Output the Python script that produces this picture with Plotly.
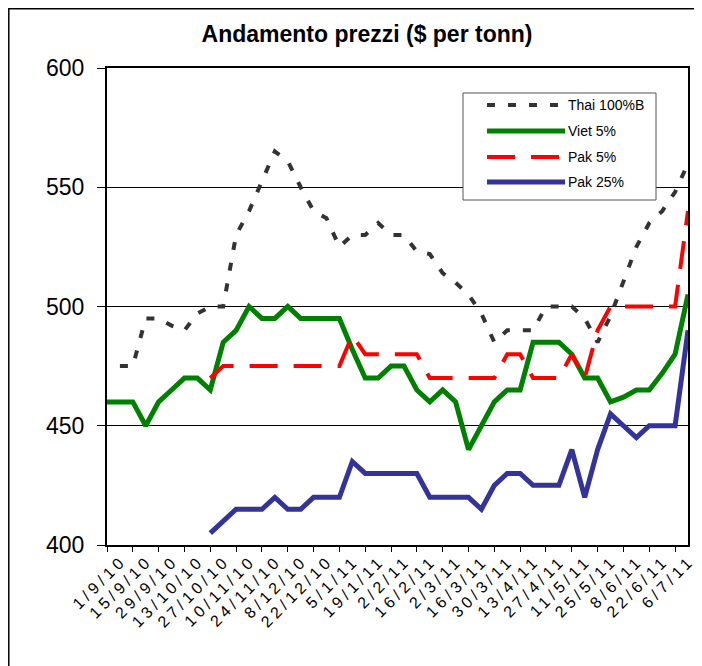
import plotly.graph_objects as go

# ---- data (weekly) ----
weeks = ["1/9/10", "8/9/10", "15/9/10", "22/9/10", "29/9/10", "6/10/10", "13/10/10", "20/10/10",
         "27/10/10", "3/11/10", "10/11/10", "17/11/10", "24/11/10", "1/12/10", "8/12/10", "15/12/10",
         "22/12/10", "29/12/10", "5/1/11", "12/1/11", "19/1/11", "26/1/11", "2/2/11", "9/2/11",
         "16/2/11", "23/2/11", "2/3/11", "9/3/11", "16/3/11", "23/3/11", "30/3/11", "6/4/11",
         "13/4/11", "20/4/11", "27/4/11", "4/5/11", "11/5/11", "18/5/11", "25/5/11", "1/6/11",
         "8/6/11", "15/6/11", "22/6/11", "29/6/11", "6/7/11", "13/7/11"]

tick_labels = ["1/9/10", "15/9/10", "29/9/10", "13/10/10", "27/10/10", "10/11/10", "24/11/10",
               "8/12/10", "22/12/10", "5/1/11", "19/1/11", "2/2/11", "16/2/11", "2/3/11", "16/3/11",
               "30/3/11", "13/4/11", "27/4/11", "11/5/11", "25/5/11", "8/6/11", "22/6/11", "6/7/11"]

thai_100b = [None, 475, 475, 495, 495, 492, 490, 497, 500, 500, 530, 540, 552, 565, 561, 550,
             540, 537, 525, 530, 530, 535, 530, 530, 523, 522, 514, 510, 505, 497, 485, 490,
             490, 490, 500, 500, 500, 495, 485, 496, 510, 525, 535, 540, 548, 560]

viet_5 = [460, 460, 460, 450, 460, 465, 470, 470, 465, 485, 490, 500, 495, 495, 500, 495,
          495, 495, 495, 482, 470, 470, 475, 475, 465, 460, 465, 460, 440, 450, 460, 465,
          465, 485, 485, 485, 480, 470, 470, 460, 462, 465, 465, 472, 480, 505]

pak_5 = [None, None, None, None, None, None, None, None,
         470, 475, 475, 475, 475, 475, 475, 475, 475, 475, 475, 488, 480, 480, 480, 480,
         480, 470, 470, 470, 470, 470, 470, 480, 480, 470, 470, 470, 480, 470, 490, 500,
         500, 500, 500, 500, 500, 540]

pak_25 = [None, None, None, None, None, None, None, None,
          405, 410, 415, 415, 415, 420, 415, 415, 420, 420, 420, 435, 430, 430, 430, 430,
          430, 420, 420, 420, 420, 415, 425, 430, 430, 425, 425, 425, 440, 420, 440, 455,
          450, 445, 450, 450, 450, 490]

series_names = ["Thai 100%B", "Viet 5%", "Pak 5%", "Pak 25%"]

# ---- geometry (figure pixels; the page adds an 8px body margin) ----
OFF = 8
W, H = 702 - OFF, 666 - OFF
L, R, T, B = 107 - OFF, 688 - OFF, 68 - OFF, 545 - OFF
PW, PH = R - L, B - T


def px(x):
    return (x - OFF - L) / PW


def py(y):
    return (B - (y - OFF)) / PH


FONT = "Arial, Liberation Sans, sans-serif"

styles = [
    dict(color="#333333", width=4, dash="8px,13px"),
    dict(color="#008000", width=5),
    dict(color="#FF0000", width=4, dash="28px,16px"),
    dict(color="#333399", width=5),
]

fig = go.Figure()
for name, vals, st in zip(series_names, [thai_100b, viet_5, pak_5, pak_25], styles):
    fig.add_trace(go.Scatter(x=weeks, y=vals, name=name, mode="lines", line=st,
                             connectgaps=False, showlegend=False))

fig.update_layout(
    width=W, height=H,
    margin=dict(l=L, r=W - R, t=T, b=H - B, pad=0, autoexpand=False),
    paper_bgcolor="white", plot_bgcolor="white",
    font=dict(family=FONT, color="black"),
    title=dict(text="<b>Andamento prezzi ($ per tonn)</b>", font=dict(size=23, family=FONT),
               x=(367 - OFF) / W, xanchor="center", xref="container",
               y=1 - (34 - OFF) / H, yanchor="middle", yref="container"),
)

spaced_labels = ['<span style="letter-spacing:4px">%s</span>' % t for t in tick_labels]

fig.update_xaxes(
    type="category", categoryorder="array", categoryarray=weeks,
    range=[0, len(weeks) - 1], automargin=False,
    tickmode="array", tickvals=weeks[::2], ticktext=spaced_labels,
    tickangle=-45, tickfont=dict(size=16, family=FONT),
    ticklabelshift=15, ticklabelstandoff=-7,
    ticks="outside", ticklen=5, tickcolor="black", tickwidth=1,
    showline=True, linecolor="black", linewidth=2, mirror=True,
    showgrid=False, zeroline=False,
)
fig.update_yaxes(
    range=[400, 600], tickvals=[400, 450, 500, 550, 600], automargin=False,
    tickfont=dict(size=23, family=FONT),
    ticks="outside", ticklen=8, tickcolor="black", tickwidth=1,
    ticklabelstandoff=8,
    showline=True, linecolor="black", linewidth=2, mirror=True,
    showgrid=True, gridcolor="black", gridwidth=1, zeroline=False,
)

shapes = []
# outer chart border (extends beyond the picture on right and bottom)
shapes.append(dict(type="rect", xref="paper", yref="paper",
                   x0=px(8.8), x1=px(720), y0=py(690), y1=py(8.8),
                   line=dict(color="black", width=1.5), fillcolor="rgba(0,0,0,0)", layer="above"))

# legend box
lx0, lx1, ly0, ly1 = 463, 656, 93, 200
shapes.append(dict(type="rect", xref="paper", yref="paper",
                   x0=px(lx0), x1=px(lx1), y0=py(ly1), y1=py(ly0),
                   line=dict(color="#555555", width=1), fillcolor="white", layer="above"))
legend_rows = [105, 131, 157, 182]
annotations = []
for name, st, yy in zip(series_names, styles, legend_rows):
    shapes.append(dict(type="line", xref="paper", yref="paper",
                       x0=px(487), x1=px(565), y0=py(yy), y1=py(yy),
                       line=dict(color=st["color"], width=st["width"], dash=st.get("dash", "solid")),
                       layer="above"))
    annotations.append(dict(x=px(566), y=py(yy), xref="paper", yref="paper", text=name,
                            showarrow=False, xanchor="left", yanchor="middle",
                            font=dict(size=14, family=FONT, color="black")))

fig.update_layout(shapes=shapes, annotations=annotations)

fig.write_html("out.html")
